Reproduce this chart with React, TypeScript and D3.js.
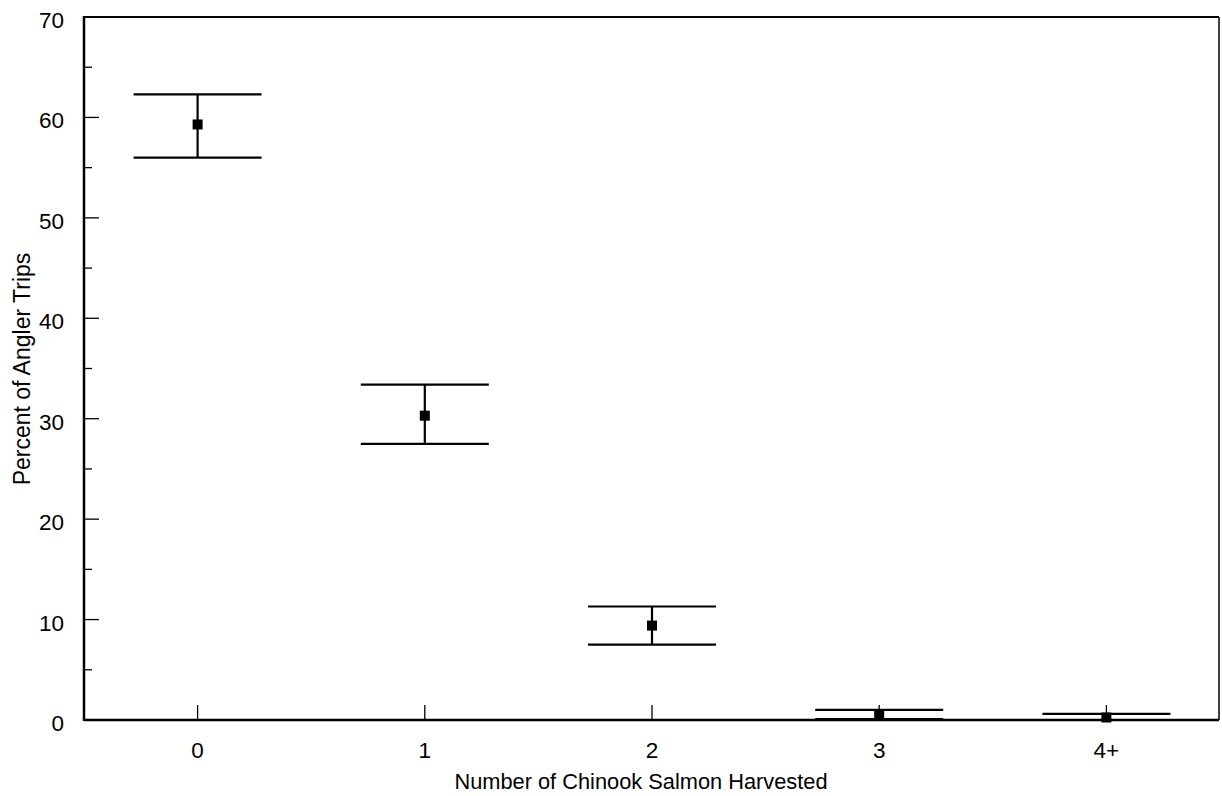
import React from "react";
import * as d3 from "d3";

// number of chinook harvested per trip
const categories = ["0", "1", "2", "3", "4+"];
const pctTrips = [59.3, 30.3, 9.4, 0.5, 0.25];
const upperCI = [62.3, 33.4, 11.3, 1.0, 0.6];
const lowerCI = [56.0, 27.5, 7.5, 0.1, 0.0];
const yTicks = [0, 10, 20, 30, 40, 50, 60, 70];
const yMinorTicks = [5, 15, 25, 35, 45, 55, 65];

const W = 1222;
const H = 796;
const margin = { top: 17, right: 2, bottom: 76, left: 84 };
const font = "'Liberation Sans', Arial, sans-serif";

const App = () => {
  const x = d3
    .scaleLinear()
    .domain([-0.5, categories.length - 0.5])
    .range([margin.left, W - margin.right]);
  const y = d3
    .scaleLinear()
    .domain([0, 70])
    .range([H - margin.bottom, margin.top]);

  const x0 = margin.left;
  const x1 = 1219;
  const yb = y(0);
  const yt = y(70);
  const capHalf = 64;

  return (
    <div style={{ position: "absolute", left: 0, top: 0 }}>
      <svg width={W} height={H} style={{ display: "block", background: "#fff" }}>
        {/* frame */}
        <line x1={x0} x2={x1} y1={yt} y2={yt} stroke="#000" strokeWidth={2} />
        <line x1={x1} x2={x1} y1={yt} y2={yb} stroke="#000" strokeWidth={1.5} />
        <line x1={x0} x2={x0} y1={yt - 1} y2={yb + 1} stroke="#000" strokeWidth={2.5} />
        <line x1={x0} x2={x1} y1={yb} y2={yb} stroke="#000" strokeWidth={2.5} />

        {/* y ticks */}
        {yTicks.map((t) => (
          <g key={"y" + t}>
            {t > 0 && t < 70 && (
              <line x1={x0} x2={x0 + 15} y1={y(t)} y2={y(t)} stroke="#000" strokeWidth={1.3} />
            )}
            <text
              x={64}
              y={y(t) + 3.5}
              textAnchor="end"
              dominantBaseline="central"
              fontFamily={font}
              fontSize={22.5}
            >
              {t}
            </text>
          </g>
        ))}
        {yMinorTicks.map((t) => (
          <line key={"m" + t} x1={x0} x2={x0 + 8} y1={y(t)} y2={y(t)} stroke="#000" strokeWidth={1.3} />
        ))}

        {/* x ticks */}
        {categories.map((c, i) => (
          <g key={"x" + c}>
            <line x1={x(i)} x2={x(i)} y1={yb} y2={yb - 15} stroke="#000" strokeWidth={1.3} />
            <text x={x(i)} y={758} textAnchor="middle" fontFamily={font} fontSize={22.5}>
              {c}
            </text>
          </g>
        ))}

        {/* error bars and points */}
        {categories.map((c, i) => (
          <g key={"e" + c} stroke="#000" strokeWidth={2.2}>
            <line x1={x(i)} x2={x(i)} y1={y(upperCI[i])} y2={y(lowerCI[i])} />
            <line x1={x(i) - capHalf} x2={x(i) + capHalf} y1={y(upperCI[i])} y2={y(upperCI[i])} />
            <line x1={x(i) - capHalf} x2={x(i) + capHalf} y1={y(lowerCI[i])} y2={y(lowerCI[i])} />
            <rect x={x(i) - 5} y={y(pctTrips[i]) - 5} width={10} height={10} fill="#000" stroke="none" />
          </g>
        ))}

        {/* axis titles */}
        <text x={641} y={789} textAnchor="middle" fontFamily={font} fontSize={21.8}>
          Number of Chinook Salmon Harvested
        </text>
        <text
          transform={`translate(30, 369) rotate(-90)`}
          textAnchor="middle"
          fontFamily={font}
          fontSize={23}
        >
          Percent of Angler Trips
        </text>
      </svg>
    </div>
  );
};

export default App;
